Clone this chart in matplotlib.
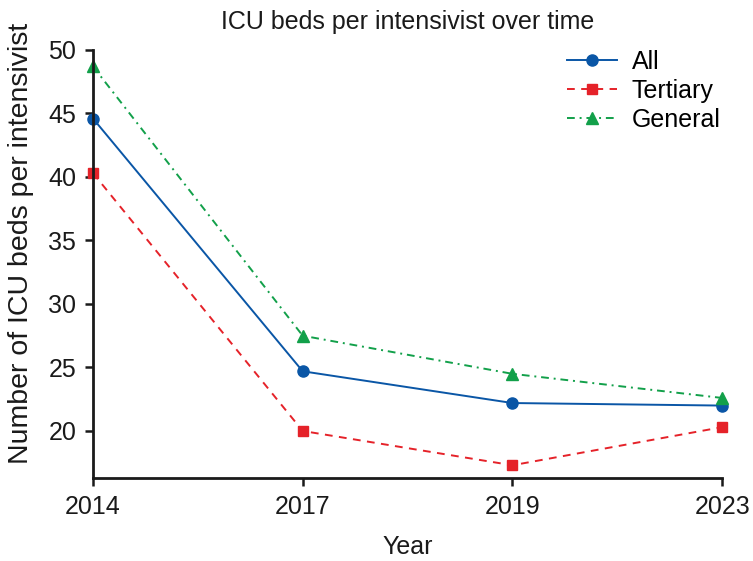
import matplotlib
matplotlib.use("Agg")
import matplotlib.pyplot as plt

years = ["2014", "2017", "2019", "2023"]
all_beds = [44.6, 24.7, 22.2, 22.0]
tertiary_beds = [40.3, 20.0, 17.3, 20.3]
general_beds = [48.7, 27.5, 24.5, 22.6]

plt.rcParams['font.family'] = ['Liberation Sans', 'DejaVu Sans']

fig = plt.figure(figsize=(7.53, 5.61), dpi=100)
ax = fig.add_axes([0.1235, 0.148, 0.8355, 0.763])

x = list(range(len(years)))
ax.plot(x, all_beds, color='#0a56a6', lw=1.4, marker='o', ms=8, label='All', clip_on=False)
ax.plot(x, tertiary_beds, color='#e52229', lw=1.4, ls=(0, (4, 3.3)), marker='s', ms=7.5, label='Tertiary', clip_on=False)
ax.plot(x, general_beds, color='#12a04a', lw=1.4, ls=(0, (4, 2.5, 1, 2.5)), marker='^', ms=8, label='General', clip_on=False)

ax.set_xlim(0, 3)
ax.set_ylim(16.3, 50)
ax.set_xticks(x)
ax.set_xticklabels(years)
ax.set_yticks([20, 25, 30, 35, 40, 45, 50])
for s in ['top', 'right']:
    ax.spines[s].set_visible(False)
for s in ['left', 'bottom']:
    ax.spines[s].set_linewidth(2)
    ax.spines[s].set_color('#1a1a1a')
ax.tick_params(axis='both', direction='out', length=6, width=1.8, labelsize=18, color='#1a1a1a', labelcolor='#1a1a1a', pad=6)

ax.set_title('ICU beds per intensivist over time', fontsize=18, color='#1a1a1a', pad=15)
ax.set_xlabel('Year', fontsize=18, color='#1a1a1a', labelpad=12)
ax.set_ylabel('Number of ICU beds per intensivist', fontsize=20.5, color='#1a1a1a', labelpad=10.5, y=0.549)

ax.legend(loc='upper left', bbox_to_anchor=(567 / 753, 1 - 50 / 561), bbox_transform=fig.transFigure,
          frameon=False, fontsize=18, handlelength=2.0, handletextpad=0.6,
          labelspacing=0.2, borderaxespad=0, borderpad=0)

fig.savefig('out.png', dpi=100)
